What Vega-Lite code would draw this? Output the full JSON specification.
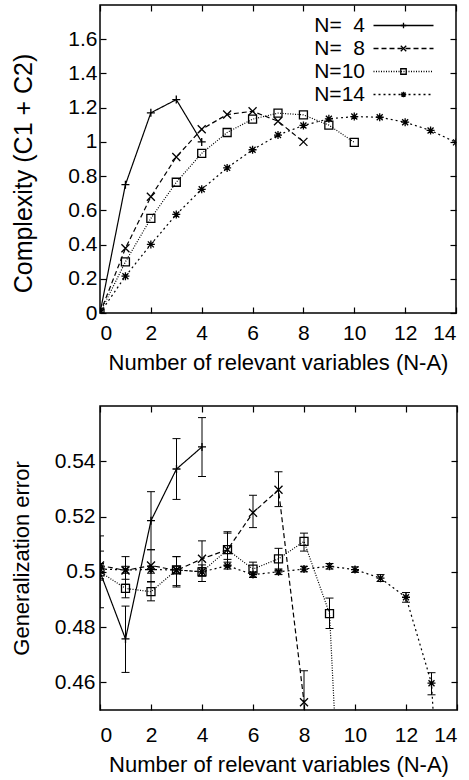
{
  "$schema": "https://vega.github.io/schema/vega-lite/v6.json",
  "padding": {"left": 9, "top": 3, "right": 10, "bottom": 3},
  "spacing": 30,
  "columns": 1,
  "align": "none",
  "config": {
    "font": "Liberation Sans",
    "view": {"stroke": "black", "strokeWidth": 1.5},
    "axis": {"grid": false, "domain": false, "tickColor": "black", "tickSize": -6, "tickWidth": 1.2,
      "labelFont": "Liberation Sans", "labelFontSize": 21, "labelColor": "black",
      "titleFont": "Liberation Sans", "titleFontSize": 22, "titleFontWeight": "normal", "titleColor": "black"},
    "legend": {"padding": 0, "rowPadding": 1, "labelLimit": 0, "symbolStrokeWidth": 1.3, "symbolStrokeColor": "black",
      "labelFont": "Liberation Sans", "labelFontSize": 21, "labelColor": "black"}
  },
  "datasets": {
    "complexity": [
      {"s": "N=\u00a0\u00a04", "na": 0, "c": 0}, {"s": "N=\u00a0\u00a04", "na": 1, "c": 0.75}, {"s": "N=\u00a0\u00a04", "na": 2, "c": 1.17}, {"s": "N=\u00a0\u00a04", "na": 3, "c": 1.247}, {"s": "N=\u00a0\u00a04", "na": 4, "c": 1.0},
      {"s": "N=\u00a0\u00a08", "na": 0, "c": 0}, {"s": "N=\u00a0\u00a08", "na": 1, "c": 0.378}, {"s": "N=\u00a0\u00a08", "na": 2, "c": 0.679}, {"s": "N=\u00a0\u00a08", "na": 3, "c": 0.912}, {"s": "N=\u00a0\u00a08", "na": 4, "c": 1.074}, {"s": "N=\u00a0\u00a08", "na": 5, "c": 1.16}, {"s": "N=\u00a0\u00a08", "na": 6, "c": 1.179}, {"s": "N=\u00a0\u00a08", "na": 7, "c": 1.121}, {"s": "N=\u00a0\u00a08", "na": 8, "c": 1.0},
      {"s": "N=10", "na": 0, "c": 0}, {"s": "N=10", "na": 1, "c": 0.299}, {"s": "N=10", "na": 2, "c": 0.553}, {"s": "N=10", "na": 3, "c": 0.764}, {"s": "N=10", "na": 4, "c": 0.933}, {"s": "N=10", "na": 5, "c": 1.055}, {"s": "N=10", "na": 6, "c": 1.133}, {"s": "N=10", "na": 7, "c": 1.168}, {"s": "N=10", "na": 8, "c": 1.158}, {"s": "N=10", "na": 9, "c": 1.098}, {"s": "N=10", "na": 10, "c": 0.997},
      {"s": "N=14", "na": 0, "c": 0}, {"s": "N=14", "na": 1, "c": 0.215}, {"s": "N=14", "na": 2, "c": 0.401}, {"s": "N=14", "na": 3, "c": 0.576}, {"s": "N=14", "na": 4, "c": 0.723}, {"s": "N=14", "na": 5, "c": 0.848}, {"s": "N=14", "na": 6, "c": 0.954}, {"s": "N=14", "na": 7, "c": 1.04}, {"s": "N=14", "na": 8, "c": 1.096}, {"s": "N=14", "na": 9, "c": 1.135}, {"s": "N=14", "na": 10, "c": 1.148}, {"s": "N=14", "na": 11, "c": 1.144}, {"s": "N=14", "na": 12, "c": 1.115}, {"s": "N=14", "na": 13, "c": 1.067}, {"s": "N=14", "na": 14, "c": 0.997}
    ],
    "generr": [
      {"s": "N=\u00a0\u00a04", "na": 0, "g": 0.5, "lo": 0.487, "hi": 0.513}, {"s": "N=\u00a0\u00a04", "na": 1, "g": 0.4757, "lo": 0.4636, "hi": 0.4876}, {"s": "N=\u00a0\u00a04", "na": 2, "g": 0.5185, "lo": 0.508, "hi": 0.529}, {"s": "N=\u00a0\u00a04", "na": 3, "g": 0.5372, "lo": 0.5262, "hi": 0.5482}, {"s": "N=\u00a0\u00a04", "na": 4, "g": 0.5452, "lo": 0.5345, "hi": 0.5558},
      {"s": "N=\u00a0\u00a08", "na": 0, "g": 0.5023, "lo": 0.4975, "hi": 0.5075}, {"s": "N=\u00a0\u00a08", "na": 1, "g": 0.5005, "lo": 0.4955, "hi": 0.5055}, {"s": "N=\u00a0\u00a08", "na": 2, "g": 0.5023, "lo": 0.4965, "hi": 0.508}, {"s": "N=\u00a0\u00a08", "na": 3, "g": 0.5005, "lo": 0.495, "hi": 0.5055}, {"s": "N=\u00a0\u00a08", "na": 4, "g": 0.5047, "lo": 0.4985, "hi": 0.5112}, {"s": "N=\u00a0\u00a08", "na": 5, "g": 0.508, "lo": 0.5025, "hi": 0.5145}, {"s": "N=\u00a0\u00a08", "na": 6, "g": 0.5214, "lo": 0.516, "hi": 0.5277}, {"s": "N=\u00a0\u00a08", "na": 7, "g": 0.5297, "lo": 0.5236, "hi": 0.5362}, {"s": "N=\u00a0\u00a08", "na": 8, "g": 0.4528, "lo": 0.441, "hi": 0.4642},
      {"s": "N=10", "na": 0, "g": 0.5, "lo": 0.497, "hi": 0.503}, {"s": "N=10", "na": 1, "g": 0.494, "lo": 0.4906, "hi": 0.4973}, {"s": "N=10", "na": 2, "g": 0.4928, "lo": 0.4895, "hi": 0.4963}, {"s": "N=10", "na": 3, "g": 0.5007, "lo": 0.4945, "hi": 0.5055}, {"s": "N=10", "na": 4, "g": 0.5, "lo": 0.4965, "hi": 0.5025}, {"s": "N=10", "na": 5, "g": 0.508, "lo": 0.5045, "hi": 0.514}, {"s": "N=10", "na": 6, "g": 0.501, "lo": 0.498, "hi": 0.5035}, {"s": "N=10", "na": 7, "g": 0.5047, "lo": 0.5005, "hi": 0.5085}, {"s": "N=10", "na": 8, "g": 0.511, "lo": 0.5075, "hi": 0.514}, {"s": "N=10", "na": 9, "g": 0.4849, "lo": 0.4795, "hi": 0.4905}, {"s": "N=10", "na": 10, "g": 0.3, "lo": 0.29, "hi": 0.31},
      {"s": "N=14", "na": 0, "g": 0.501, "lo": 0.4995, "hi": 0.5025}, {"s": "N=14", "na": 1, "g": 0.5007, "lo": 0.4995, "hi": 0.502}, {"s": "N=14", "na": 2, "g": 0.5008, "lo": 0.4995, "hi": 0.502}, {"s": "N=14", "na": 3, "g": 0.5007, "lo": 0.4995, "hi": 0.502}, {"s": "N=14", "na": 4, "g": 0.5, "lo": 0.4985, "hi": 0.5015}, {"s": "N=14", "na": 5, "g": 0.5022, "lo": 0.501, "hi": 0.5035}, {"s": "N=14", "na": 6, "g": 0.499, "lo": 0.498, "hi": 0.5}, {"s": "N=14", "na": 7, "g": 0.5, "lo": 0.499, "hi": 0.501}, {"s": "N=14", "na": 8, "g": 0.501, "lo": 0.5, "hi": 0.502}, {"s": "N=14", "na": 9, "g": 0.502, "lo": 0.501, "hi": 0.503}, {"s": "N=14", "na": 10, "g": 0.5008, "lo": 0.4998, "hi": 0.5018}, {"s": "N=14", "na": 11, "g": 0.4977, "lo": 0.4965, "hi": 0.499}, {"s": "N=14", "na": 12, "g": 0.4908, "lo": 0.489, "hi": 0.4925}, {"s": "N=14", "na": 13, "g": 0.4597, "lo": 0.4555, "hi": 0.4635}, {"s": "N=14", "na": 14, "g": 0.3, "lo": 0.29, "hi": 0.31}
    ]
  },
  "concat": [
    {
      "width": 356, "height": 308,
      "data": {"name": "complexity"},
      "resolve": {"axis": {"x": "independent", "y": "independent"}},
      "layer": [
        {
          "mark": {"type": "line", "color": "black", "strokeWidth": 1.2, "clip": true},
          "encoding": {
            "x": {"field": "na", "type": "quantitative", "scale": {"domain": [0, 14], "nice": false},
              "axis": {"values": [0, 2, 4, 6, 8, 10, 12, 14], "title": "Number of relevant variables (N-A)", "labelPadding": 15, "titlePadding": 9}},
            "y": {"field": "c", "type": "quantitative", "scale": {"domain": [0, 1.8], "nice": false, "zero": false},
              "axis": {"values": [0, 0.2, 0.4, 0.6, 0.8, 1, 1.2, 1.4, 1.6], "format": "~g", "title": "Complexity  (C1 + C2)", "titleFontSize": 25, "titleY": 168, "labelPadding": 9, "titlePadding": 31}},
            "strokeDash": {"field": "s", "type": "nominal", "sort": ["N=\u00a0\u00a04", "N=\u00a0\u00a08", "N=10", "N=14"],
              "scale": {"range": [[1, 0], [5, 3], [1, 1.5], [2, 3]]},
              "legend": {"title": null, "orient": "none", "legendX": 293, "legendY": 10, "symbolType": "M-5,0H5", "symbolSize": 144, "labelAlign": "right", "labelOffset": -49}}
          }
        },
        {
          "mark": {"type": "point", "filled": false, "color": "black", "size": 64, "strokeWidth": 1.3, "opacity": 1, "clip": true},
          "encoding": {
            "x": {"field": "na", "type": "quantitative", "axis": {"orient": "top", "values": [0, 2, 4, 6, 8, 10, 12, 14], "labels": false, "title": null}},
            "y": {"field": "c", "type": "quantitative", "axis": {"orient": "right", "values": [0, 0.2, 0.4, 0.6, 0.8, 1, 1.2, 1.4, 1.6], "labels": false, "title": null}},
            "shape": {"field": "s", "type": "nominal",
              "scale": {"domain": ["N=\u00a0\u00a04", "N=\u00a0\u00a08", "N=10", "N=14"], "range": ["M-1,0H1M0,-1V1", "M-1,-1L1,1M-1,1L1,-1", "M-1,-1H1V1H-1Z", "M-1,0H1M0,-1V1M-0.75,-0.75L0.75,0.75M-0.75,0.75L0.75,-0.75"]},
              "legend": {"title": null, "orient": "none", "legendX": 266, "legendY": 10, "symbolSize": 30, "symbolOffset": 27, "labelOpacity": 0}}
          }
        }
      ]
    },
    {
      "width": 357, "height": 304,
      "data": {"name": "generr"},
      "resolve": {"axis": {"x": "independent", "y": "independent"}},
      "layer": [
        {
          "mark": {"type": "line", "color": "black", "strokeWidth": 1.2, "clip": true},
          "encoding": {
            "x": {"field": "na", "type": "quantitative", "scale": {"domain": [0, 14], "nice": false},
              "axis": {"values": [0, 2, 4, 6, 8, 10, 12, 14], "title": "Number of relevant variables (N-A)", "labelPadding": 20, "titlePadding": 9}},
            "y": {"field": "g", "type": "quantitative", "scale": {"domain": [0.45, 0.56], "nice": false, "zero": false},
              "axis": {"values": [0.46, 0.48, 0.5, 0.52, 0.54], "format": "~g", "title": "Generalization error", "labelPadding": 11, "titlePadding": 21}},
            "strokeDash": {"field": "s", "type": "nominal", "sort": ["N=\u00a0\u00a04", "N=\u00a0\u00a08", "N=10", "N=14"],
              "scale": {"range": [[1, 0], [5, 3], [1, 1.5], [2, 3]]},
              "legend": {"title": null, "orient": "none", "legendX": 293, "legendY": 9, "symbolType": "M-5,0H5", "symbolSize": 144, "labelAlign": "right", "labelOffset": -49}}
          }
        },
        {
          "mark": {"type": "rule", "color": "black", "strokeWidth": 1, "clip": true},
          "encoding": {
            "x": {"field": "na", "type": "quantitative", "axis": null},
            "y": {"field": "lo", "type": "quantitative", "axis": null},
            "y2": {"field": "hi"}
          }
        },
        {
          "mark": {"type": "tick", "orient": "horizontal", "size": 8, "thickness": 1, "color": "black", "opacity": 1, "clip": true},
          "encoding": {
            "x": {"field": "na", "type": "quantitative", "axis": null},
            "y": {"field": "lo", "type": "quantitative", "axis": null}
          }
        },
        {
          "mark": {"type": "tick", "orient": "horizontal", "size": 8, "thickness": 1, "color": "black", "opacity": 1, "clip": true},
          "encoding": {
            "x": {"field": "na", "type": "quantitative", "axis": null},
            "y": {"field": "hi", "type": "quantitative", "axis": null}
          }
        },
        {
          "mark": {"type": "point", "filled": false, "color": "black", "size": 64, "strokeWidth": 1.3, "opacity": 1, "clip": true},
          "encoding": {
            "x": {"field": "na", "type": "quantitative", "axis": {"orient": "top", "values": [0, 2, 4, 6, 8, 10, 12, 14], "labels": false, "title": null}},
            "y": {"field": "g", "type": "quantitative", "axis": {"orient": "right", "values": [0.46, 0.48, 0.5, 0.52, 0.54], "labels": false, "title": null}},
            "shape": {"field": "s", "type": "nominal",
              "scale": {"domain": ["N=\u00a0\u00a04", "N=\u00a0\u00a08", "N=10", "N=14"], "range": ["M-1,0H1M0,-1V1", "M-1,-1L1,1M-1,1L1,-1", "M-1,-1H1V1H-1Z", "M-1,0H1M0,-1V1M-0.75,-0.75L0.75,0.75M-0.75,0.75L0.75,-0.75"]},
              "legend": {"title": null, "orient": "none", "legendX": 266, "legendY": 9, "symbolSize": 30, "symbolOffset": 27, "labelOpacity": 0}}
          }
        }
      ]
    }
  ]
}
